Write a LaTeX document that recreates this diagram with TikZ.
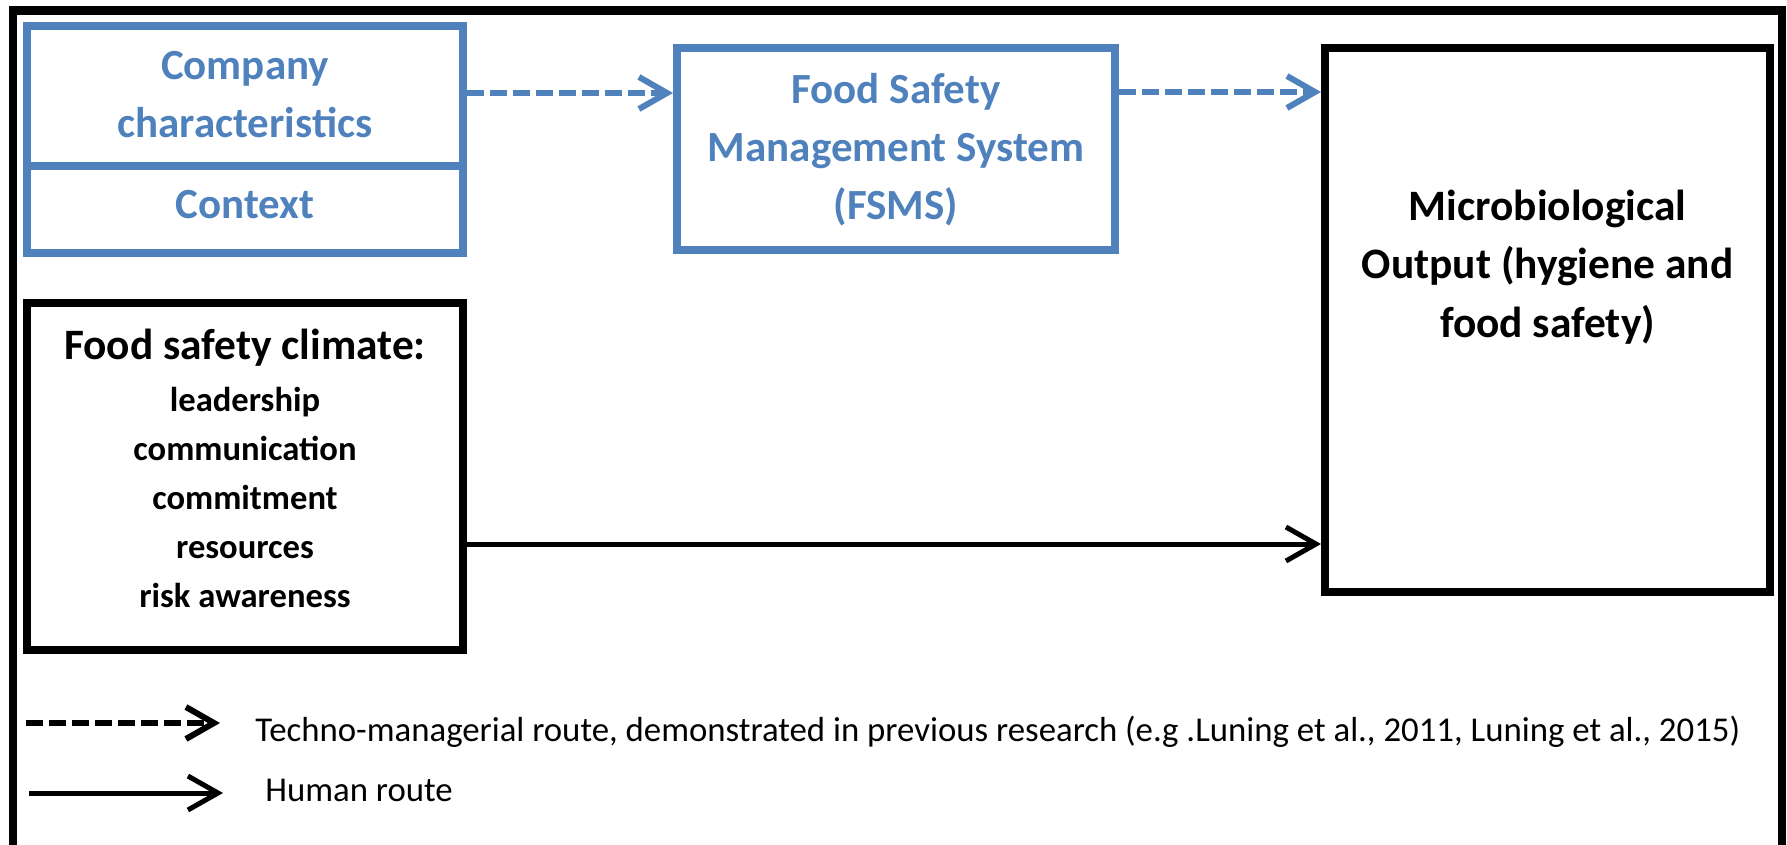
\documentclass[tikz,border=0pt]{standalone}
\usepackage{fontspec}
\setmainfont{Carlito}
\usetikzlibrary{arrows.meta}
\definecolor{obl}{HTML}{4F81BD}
\begin{document}
\begin{tikzpicture}[
  x=0.5pt, y=-0.5pt,
  bluebox/.style={draw=obl, line width=4pt, rectangle, inner sep=0pt},
  blackbox/.style={draw=black, line width=4pt, rectangle, inner sep=0pt},
  bluetxt/.style={text=obl, font=\bfseries\fontsize{21.5}{29}\selectfont, align=center, anchor=base, inner sep=0pt},
  blacktxt/.style={text=black, font=\bfseries\fontsize{21.7}{29.25}\selectfont, align=center, anchor=base, inner sep=0pt},
  listtxt/.style={text=black, font=\bfseries\fontsize{17.3}{24.5}\selectfont, align=center, anchor=base, inner sep=0pt},
  legtxt/.style={text=black, font=\fontsize{17.4}{20}\selectfont, anchor=base west, inner sep=0pt},
  dasharrow/.style={line width=3pt, dash pattern=on 8.5pt off 3pt, -{Straight Barb[length=14pt,width=16pt]}},
  solidarrow/.style={line width=2.5pt, -{Straight Barb[length=15pt,width=17pt]}},
]
\useasboundingbox (0,0) rectangle (1787,845);
% outer frame
\draw[line width=4.25pt] (13,850) -- (13,10.5) -- (1782,10.5) -- (1782,850);

% boxes
\node[bluebox, minimum width=218pt, minimum height=70.25pt] (comptop) at (245,96.25) {};
\node[bluebox, minimum width=218pt, minimum height=43.25pt] (context) at (245,209.75) {};
\node[bluebox, minimum width=219pt, minimum height=101pt] (fsms) at (896,149) {};
\node[blackbox, minimum width=222.5pt, minimum height=272pt] (out) at (1547.5,320) {};
\node[blackbox, minimum width=218pt, minimum height=173.75pt] (climate) at (245,476.25) {};

% texts (base anchor = baseline of the last line)
\node[bluetxt] (comptxt) at (245,138) {Company\\characteristics};
\node[bluetxt] (contexttxt) at (245,219) {Context};
\node[bluetxt] (fsmstxt) at (896,220) {Food Safety\\Management System\\(FSMS)};
\node[blacktxt] (outtxt) at (1547.5,337) {Microbiological\\Output (hygiene and\\food safety)};
\node[blacktxt] (climtitle) at (245,359) {Food safety climate:};
\node[listtxt] (climlist) at (245,607) {leadership\\communication\\commitment\\resources\\risk awareness};

% connectors
\coordinate (y93) at (0,93);
\coordinate (y92) at (0,92);
\coordinate (y544) at (0,544);
\draw[obl, dasharrow] (comptop.east |- y93) -- (fsms.west |- y93);
\draw[obl, dasharrow] (fsms.east |- y92) -- (out.west |- y92);
\draw[black, solidarrow] (climate.east |- y544) -- (out.west |- y544);

% legend
\coordinate (l1s) at (26,723);
\coordinate (l1e) at (220,723);
\coordinate (l2s) at (29,793);
\coordinate (l2e) at (223,793);
\draw[black, dasharrow] (l1s) -- (l1e);
\draw[black, solidarrow] (l2s) -- (l2e);
\node[legtxt] (leg1) at (255,741) {Techno-managerial route, demonstrated in previous research (e.g .Luning et al., 2011, Luning et al., 2015)};
\node[legtxt] (leg2) at (265,801) {Human route};
\end{tikzpicture}
\end{document}
